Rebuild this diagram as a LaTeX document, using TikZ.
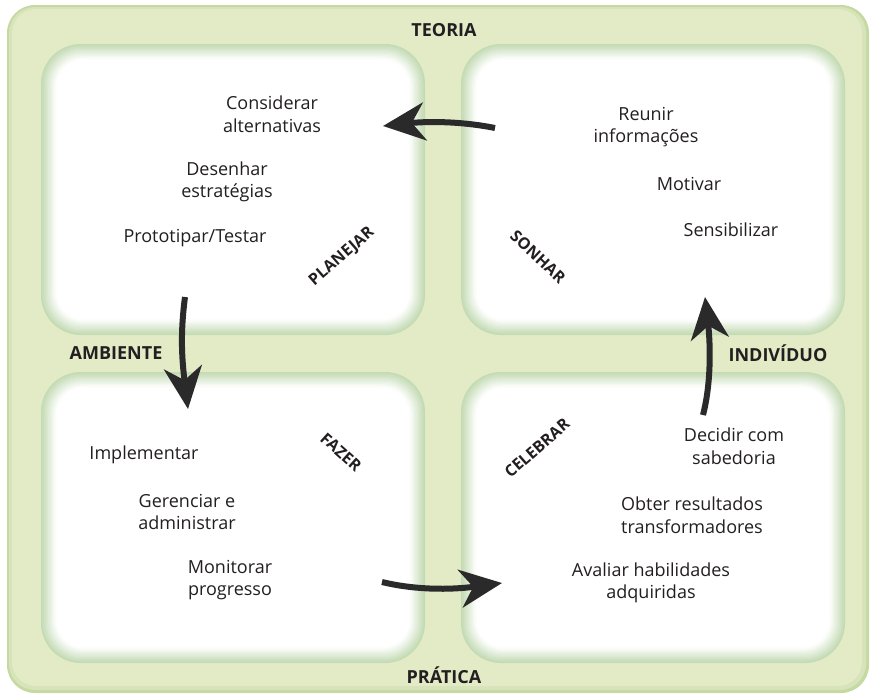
\documentclass[tikz,border=0pt]{standalone}
\usepackage{fontspec}
\setmainfont{Open Sans}
\usepackage{tikz}
\usetikzlibrary{positioning,calc,arrows.meta}
\tikzset{>=stealth}
\definecolor{outerfill}{HTML}{E2EAC6}
\definecolor{outeredge}{HTML}{C6D9A2}
\definecolor{glowc}{HTML}{9EC484}
\definecolor{txtc}{HTML}{231F20}
\definecolor{arrowc}{HTML}{2A2A2A}
\tikzset{
  item/.style={align=center,text=txtc,font=\fontsize{18}{22.5}\selectfont},
  sidelabel/.style={text=txtc,font=\fontsize{18}{21}\selectfont\bfseries},
  phase/.style={text=txtc,font=\fontsize{16}{19}\selectfont\bfseries},
  bigarrow/.style={draw=arrowc,line width=6pt,-{Stealth[length=42pt,width=38pt,inset=13pt]}}
}

\begin{document}
\begin{tikzpicture}[x=1pt,y=-1pt]
\useasboundingbox (0,0) rectangle (870,694);
% outer frame
\fill[outeredge,rounded corners=28] (7,5) rectangle (869,693);
\fill[outerfill!60!outeredge,rounded corners=26] (9,7) rectangle (866,690);
\fill[outerfill,rounded corners=24] (12,9) rectangle (862,686);
% the four boxes, glow at the edge
\foreach \xa/\ya/\xb/\yb in {41/44/425/335,461/44/845/335,41/372/425/663,461/372/845/663}{
  \foreach \i [evaluate=\i as \p using {int(62-\i*5)}] in {0,...,12}
    \fill[glowc!\p!white,rounded corners=40-\i] (\xa+1.2*\i,\ya+1.2*\i) rectangle (\xb-1.2*\i,\yb-1.2*\i);
  \fill[white,rounded corners=26] (\xa+16,\ya+16) rectangle (\xb-16,\yb-16);
}
% side labels
\node[sidelabel] (teoria) at (444,30) {TEORIA};
\node[sidelabel] (ambiente) at (116,353) {AMBIENTE};
\node[sidelabel] (individuo) at (778,353) {INDIVÍDUO};
\node[sidelabel] (pratica) at (444,675) {PRÁTICA};
% planejar
\node[item] (considerar) at (272,114) {Considerar\\alternativas};
\node[item] (desenhar) at (227,182) {Desenhar\\estratégias};
\node[item] (prototipar) at (195,238) {Prototipar/Testar};
\node[phase,rotate=41] (planejar) at (342,257) {PLANEJAR};
% sonhar
\node[item] (reunir) at (646,127) {Reunir\\informações};
\node[item] (motivar) at (689,184) {Motivar};
\node[item] (sensibilizar) at (731,230) {Sensibilizar};
\node[phase,rotate=-43] (sonhar) at (538,257) {SONHAR};
% fazer
\node[item] (implementar) at (144,455) {Implementar};
\node[item] (gerenciar) at (187,512) {Gerenciar e\\administrar};
\node[item] (monitorar) at (230,580) {Monitorar\\progresso};
\node[phase,rotate=-42] (fazer) at (341,452) {FAZER};
% celebrar
\node[item] (decidir) at (734,446) {Decidir com\\sabedoria};
\node[item] (obter) at (692,515) {Obter resultados\\transformadores};
\node[item] (avaliar) at (651,583) {Avaliar habilidades\\adquiridas};
\node[phase,rotate=41] (celebrar) at (537,448) {CELEBRAR};
% arrows between the boxes
\coordinate (s1) at (495,128);
\coordinate (e1) at (383,126);
\coordinate (s2) at (185,297);
\coordinate (e2) at (188,409);
\coordinate (s3) at (382,582);
\coordinate (e3) at (502,583);
\coordinate (s4) at (703,415);
\coordinate (e4) at (705,297);
\draw[bigarrow] (s1) .. controls (455,120) and (420,122) .. (e1);
\draw[bigarrow] (s2) .. controls (180,335) and (182,360) .. (e2);
\draw[bigarrow] (s3) .. controls (415,590) and (450,590) .. (e3);
\draw[bigarrow] (s4) .. controls (712,380) and (710,340) .. (e4);
\end{tikzpicture}
\end{document}
